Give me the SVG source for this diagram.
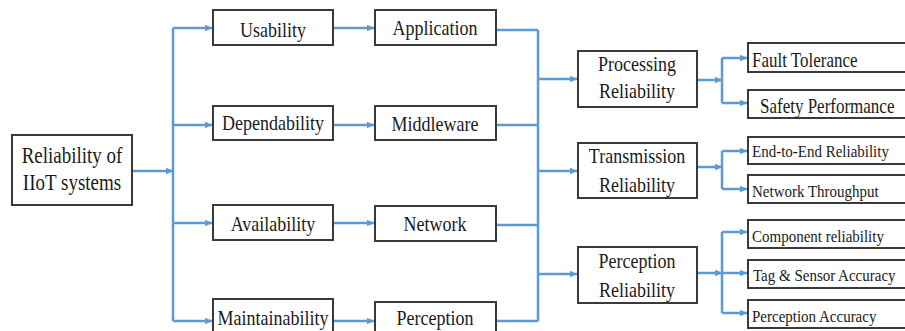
<svg xmlns="http://www.w3.org/2000/svg" width="905" height="331" viewBox="0 0 905 331">
  <defs>
    <marker id="arr" viewBox="0 0 8 8" refX="7.5" refY="4" markerWidth="8" markerHeight="8" markerUnits="userSpaceOnUse" orient="auto">
      <path d="M0,0.5 L8,4 L0,7.5 Z" fill="#5b9bd5"/>
    </marker>
  </defs>
  <style>
    .box { fill: #ffffff; stroke: #3a3a3a; stroke-width: 2; }
    text { font-family: "Liberation Serif", "Times New Roman", serif; fill: #1a1a1a; }
    .lbl { font-size: 18px; text-anchor: middle; }
    .big { font-size: 19px; text-anchor: middle; }
    .sm { font-size: 15px; }
    .md { font-size: 17px; }
    .wire { fill: none; stroke: #5b9bd5; stroke-width: 2.5; }
    .arw { fill: none; stroke: #5b9bd5; stroke-width: 2.5; marker-end: url(#arr); }
  </style>
  <rect width="905" height="331" fill="#ffffff"/>

  <!-- connectors -->
  <g id="connectors">
    <!-- root to attribute bus -->
    <path class="arw" d="M132,171 H173"/>
    <path class="wire" d="M173,28 V321"/>
    <path class="arw" d="M173,28 H212"/>
    <path class="arw" d="M173,125 H212"/>
    <path class="arw" d="M173,223 H212"/>
    <path class="arw" d="M173,321 H212"/>
    <!-- attribute to layer -->
    <path class="arw" d="M334,28 H374"/>
    <path class="arw" d="M334,125 H374"/>
    <path class="arw" d="M334,223 H374"/>
    <path class="arw" d="M334,321 H374"/>
    <!-- layers to reliability bus -->
    <path class="wire" d="M497,30 H538 M497,125 H538 M497,225 H538 M497,321 H538"/>
    <path class="wire" d="M538,30 V321"/>
    <path class="arw" d="M538,79 H577"/>
    <path class="arw" d="M538,171 H577"/>
    <path class="arw" d="M538,274 H577"/>
    <!-- processing branch -->
    <path class="arw" d="M698,80 H722"/>
    <path class="wire" d="M722,58 V103"/>
    <path class="arw" d="M722,58 H747"/>
    <path class="arw" d="M722,103 H747"/>
    <!-- transmission branch -->
    <path class="arw" d="M698,167 H722"/>
    <path class="wire" d="M722,151 V189"/>
    <path class="arw" d="M722,151 H747"/>
    <path class="arw" d="M722,189 H747"/>
    <!-- perception branch -->
    <path class="arw" d="M698,273 H722"/>
    <path class="wire" d="M722,232 V313"/>
    <path class="arw" d="M722,232 H747"/>
    <path class="arw" d="M722,273 H747"/>
    <path class="arw" d="M722,313 H747"/>
  </g>

  <!-- labels use a slightly tall glyph shape: scale(1,1.18) -->
  <g id="root">
    <rect class="box" x="12" y="135" width="120" height="70"/>
    <text class="big" transform="translate(72,163) scale(1,1.18)">Reliability of</text>
    <text class="big" transform="translate(72,190) scale(1,1.18)">IIoT systems</text>
  </g>

  <g id="usability">
    <rect class="box" x="213" y="10" width="120" height="35"/>
    <text class="lbl" transform="translate(273,37) scale(1,1.18)">Usability</text>
  </g>
  <g id="dependability">
    <rect class="box" x="213" y="106" width="120" height="34"/>
    <text class="lbl" transform="translate(273,130) scale(1,1.18)">Dependability</text>
  </g>
  <g id="availability">
    <rect class="box" x="213" y="205" width="120" height="35"/>
    <text class="lbl" transform="translate(273,231) scale(1,1.18)">Availability</text>
  </g>
  <g id="maintainability">
    <rect class="box" x="213" y="299" width="120" height="40"/>
    <text class="lbl" transform="translate(273,325) scale(1,1.18)">Maintainability</text>
  </g>

  <g id="application">
    <rect class="box" x="375" y="10" width="121" height="35"/>
    <text class="lbl" transform="translate(435,35) scale(1,1.18)">Application</text>
  </g>
  <g id="middleware">
    <rect class="box" x="375" y="106" width="121" height="34"/>
    <text class="lbl" transform="translate(435,131) scale(1,1.18)">Middleware</text>
  </g>
  <g id="network">
    <rect class="box" x="375" y="206" width="121" height="35"/>
    <text class="lbl" transform="translate(435,231) scale(1,1.18)">Network</text>
  </g>
  <g id="perception">
    <rect class="box" x="375" y="302" width="121" height="40"/>
    <text class="lbl" transform="translate(435,325) scale(1,1.18)">Perception</text>
  </g>

  <g id="processing-reliability">
    <rect class="box" x="578" y="51" width="119" height="56"/>
    <text class="lbl" transform="translate(637,71) scale(1,1.18)">Processing</text>
    <text class="lbl" transform="translate(637,98) scale(1,1.18)">Reliability</text>
  </g>
  <g id="transmission-reliability">
    <rect class="box" x="578" y="143" width="119" height="55"/>
    <text class="lbl" transform="translate(637,163) scale(1,1.18)">Transmission</text>
    <text class="lbl" transform="translate(637,192) scale(1,1.18)">Reliability</text>
  </g>
  <g id="perception-reliability">
    <rect class="box" x="578" y="247" width="119" height="56"/>
    <text class="lbl" transform="translate(637,268) scale(1,1.18)">Perception</text>
    <text class="lbl" transform="translate(637,297) scale(1,1.18)">Reliability</text>
  </g>

  <g id="fault-tolerance">
    <rect class="box" x="748" y="43" width="170" height="29"/>
    <text class="md" transform="translate(752,67) scale(1,1.18)">Fault Tolerance</text>
  </g>
  <g id="safety-performance">
    <rect class="box" x="748" y="90" width="170" height="28"/>
    <text class="md" transform="translate(760,113) scale(1,1.18)">Safety Performance</text>
  </g>
  <g id="end-to-end-reliability">
    <rect class="box" x="748" y="137" width="170" height="27"/>
    <text class="sm" transform="translate(752,157) scale(1,1.18)">End-to-End Reliability</text>
  </g>
  <g id="network-throughput">
    <rect class="box" x="748" y="175" width="170" height="28"/>
    <text class="sm" transform="translate(752,197) scale(1,1.18)">Network Throughput</text>
  </g>
  <g id="component-reliability">
    <rect class="box" x="748" y="220" width="170" height="28"/>
    <text class="sm" transform="translate(752,242) scale(1,1.18)">Component reliability</text>
  </g>
  <g id="tag-sensor-accuracy">
    <rect class="box" x="748" y="260" width="170" height="28"/>
    <text class="sm" transform="translate(753,281) scale(1,1.18)">Tag &amp; Sensor Accuracy</text>
  </g>
  <g id="perception-accuracy">
    <rect class="box" x="748" y="300" width="170" height="28"/>
    <text class="sm" transform="translate(752,322) scale(1,1.18)">Perception Accuracy</text>
  </g>
</svg>
